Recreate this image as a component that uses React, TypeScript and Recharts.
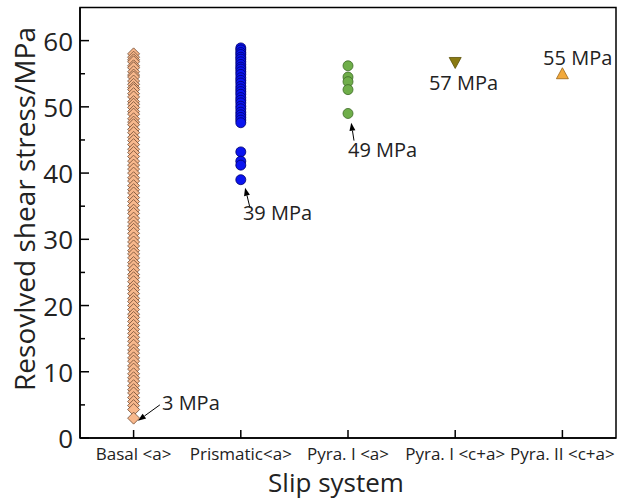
import React from 'react';
import { ScatterChart, Scatter, XAxis, YAxis, ReferenceArea, ReferenceLine, ReferenceDot } from 'recharts';

const categories = ['Basal <a>', 'Prismatic<a>', 'Pyra. I <a>', 'Pyra. I <c+a>', 'Pyra. II <c+a>'];

const basalValues = [
  58.0, 57.5, 57.1, 56.8, 56.2, 55.9, 55.3, 54.8, 54.5, 53.9, 53.4, 52.9, 52.6, 52.0, 51.5, 50.8,
  50.4, 49.9, 49.3, 48.9, 48.2, 47.7, 47.3, 46.6, 46.1, 45.4, 44.9, 44.3, 43.6, 43.1, 42.5, 41.8,
  41.2, 40.6, 40.0, 39.3, 38.8, 38.1, 37.5, 37.0, 36.3, 35.7, 35.1, 34.4, 33.9, 33.2, 32.6, 32.0,
  31.5, 30.9, 30.2, 29.6, 29.0, 28.3, 27.8, 27.2, 26.5, 26.0, 25.4, 24.7, 24.2, 23.6, 22.9, 22.4,
  21.8, 21.1, 20.6, 20.0, 19.4, 18.7, 18.2, 17.6, 17.0, 16.4, 15.8, 15.2, 14.6, 14.0, 13.3, 12.8,
  12.1, 11.6, 10.9, 10.4, 9.7, 9.1, 8.6, 7.9, 7.3, 6.8, 6.1, 5.5, 4.9, 4.3, 3.0,
];
const prismaticValues = [
  58.9, 58.6, 58.2, 57.9, 57.5, 57.2, 56.8, 56.4, 56.0, 55.7, 55.3, 54.9, 54.4, 54.0, 53.6, 53.1,
  52.7, 52.3, 51.9, 51.4, 51.0, 50.6, 50.1, 49.7, 49.2, 48.8, 48.4, 48.0, 47.6, 43.2, 41.8, 41.2, 39.0,
];
const pyraIaValues = [56.2, 54.5, 53.8, 52.6, 49.0];
const pyraIcaValues = [56.7];
const pyraIIcaValues = [55.0];

const yTicks = [0, 5, 10, 15, 20, 25, 30, 35, 40, 45, 50, 55, 60];
const xTicks = [1, 2, 3, 4, 5];

const annotations = [
  { text: '3 MPa', x: 1.265, y: 5.3 },
  { text: '39 MPa', x: 2.02, y: 34.0 },
  { text: '49 MPa', x: 3.0, y: 43.6 },
  { text: '57 MPa', x: 3.755, y: 53.7 },
  { text: '55 MPa', x: 4.82, y: 57.5 },
];
const arrows = [
  { x1: 1.245, y1: 5.0, x2: 1.04, y2: 2.6 },
  { x1: 2.085, y1: 34.8, x2: 2.04, y2: 37.8 },
  { x1: 3.056, y1: 44.9, x2: 3.03, y2: 47.6 },
];

const toPts = (xv: number, arr: number[]) => arr.map((v) => ({ x: xv, y: v }));
const basalData = toPts(1, basalValues);
const prismaticData = toPts(2, prismaticValues);
const pyraIaData = toPts(3, pyraIaValues);
const pyraIcaData = toPts(4, pyraIcaValues);
const pyraIIcaData = toPts(5, pyraIIcaValues);

const FONT = '"Open Sans", "DejaVu Sans", sans-serif';

const Diamond = (p: any) => {
  const { cx, cy } = p;
  const h = 6;
  return (
    <polygon
      points={`${cx},${cy - h} ${cx + h},${cy} ${cx},${cy + h} ${cx - h},${cy}`}
      fill="#F8B88C"
      stroke="#6E4A33"
      strokeWidth={0.8}
    />
  );
};
const makeCircle = (fill: string, stroke: string, r: number) => (p: any) => (
  <circle cx={p.cx} cy={p.cy} r={r} fill={fill} stroke={stroke} strokeWidth={0.8} />
);
const DownTri = (p: any) => {
  const { cx, cy } = p;
  return (
    <polygon
      points={`${cx - 6},${cy - 5} ${cx + 6},${cy - 5} ${cx},${cy + 6}`}
      fill="#8A7A12"
      stroke="#5A5008"
      strokeWidth={0.8}
    />
  );
};
const UpTri = (p: any) => {
  const { cx, cy } = p;
  return (
    <polygon
      points={`${cx - 6},${cy + 5} ${cx + 6},${cy + 5} ${cx},${cy - 6}`}
      fill="#F2A93B"
      stroke="#9A6515"
      strokeWidth={0.8}
    />
  );
};

const YTick = (props: any) => {
  const { x, y, payload } = props;
  const v = payload.value;
  const major = v % 10 === 0;
  return (
    <g>
      <line x1={x} x2={x + (major ? 9 : 5)} y1={y} y2={y} stroke="#000" strokeWidth={1.5} />
      {major && (
        <text x={x - 7} y={y} textAnchor="end" dominantBaseline="central" fontSize={26} fontFamily={FONT} fill="#222">
          {v}
        </text>
      )}
    </g>
  );
};

const XTick = (props: any) => {
  const { x, y, payload } = props;
  return (
    <g>
      <line x1={x} x2={x} y1={y} y2={y - 8} stroke="#000" strokeWidth={1.5} />
      <text x={x} y={y + 15} textAnchor="middle" dominantBaseline="central" fontSize={17} fontFamily={FONT} fill="#222">
        {categories[payload.value - 1]}
      </text>
    </g>
  );
};

const ArrowShape = (p: any) => {
  const { x1, y1, x2, y2 } = p;
  const ang = Math.atan2(y2 - y1, x2 - x1);
  const L = 8;
  const W = 3;
  const bx = x2 - L * Math.cos(ang);
  const by = y2 - L * Math.sin(ang);
  const px = -Math.sin(ang) * W;
  const py = Math.cos(ang) * W;
  return (
    <g>
      <line x1={x1} y1={y1} x2={bx} y2={by} stroke="#000" strokeWidth={1} />
      <polygon points={`${x2},${y2} ${bx + px},${by + py} ${bx - px},${by - py}`} fill="#000" />
    </g>
  );
};

const AnnotText = (text: string) => (p: any) => (
  <text x={p.cx} y={p.cy} dominantBaseline="central" fontSize={20} fontFamily={FONT} fill="#222">
    {text}
  </text>
);

export default function App() {
  return (
    <div style={{ position: 'absolute', left: 0, top: 0, width: 634, height: 502, background: '#fff' }}>
      <ScatterChart width={634} height={502} margin={{ top: 7.5, right: 18, bottom: 0, left: 0 }}>
        <XAxis
          type="number"
          dataKey="x"
          domain={[0.5, 5.5]}
          ticks={xTicks}
          interval={0}
          allowDataOverflow
          height={64}
          tickLine={false}
          tickSize={0}
          tickMargin={0}
          tick={<XTick />}
          axisLine={{ stroke: '#000', strokeWidth: 1.5 }}
          label={{
            content: (p: any) => (
              <text x={336} y={482} textAnchor="middle" dominantBaseline="central" fontSize={26} fontFamily={FONT} fill="#222">
                Slip system
              </text>
            ),
          }}
        />
        <YAxis
          type="number"
          dataKey="y"
          domain={[0, 65]}
          ticks={yTicks}
          interval={0}
          allowDataOverflow
          width={80}
          tickLine={false}
          tickSize={0}
          tickMargin={0}
          tick={<YTick />}
          axisLine={{ stroke: '#000', strokeWidth: 1.5 }}
          label={{
            content: (p: any) => (
              <text
                x={24}
                y={209}
                transform="rotate(-90 24 209)"
                textAnchor="middle"
                dominantBaseline="central"
                fontSize={28}
                fontFamily={FONT}
                fill="#222"
              >
                Resovlved shear stress/MPa
              </text>
            ),
          }}
        />
        <ReferenceArea x1={0.5} x2={5.5} y1={0} y2={65} fill="none" stroke="#000" strokeWidth={1.5} ifOverflow="visible" />
        <Scatter data={basalData} shape={Diamond} isAnimationActive={false} />
        <Scatter data={prismaticData} shape={makeCircle('#0A14F0', '#00006A', 5)} isAnimationActive={false} />
        <Scatter data={pyraIaData} shape={makeCircle('#6FAE4A', '#3C6A26', 5)} isAnimationActive={false} />
        <Scatter data={pyraIcaData} shape={DownTri} isAnimationActive={false} />
        <Scatter data={pyraIIcaData} shape={UpTri} isAnimationActive={false} />
        {arrows.map((a, i) => (
          <ReferenceLine
            key={'a' + i}
            segment={[{ x: a.x1, y: a.y1 }, { x: a.x2, y: a.y2 }]}
            shape={ArrowShape}
            ifOverflow="visible"
          />
        ))}
        {annotations.map((a, i) => (
          <ReferenceDot key={'t' + i} x={a.x} y={a.y} r={0} shape={AnnotText(a.text)} ifOverflow="visible" />
        ))}
      </ScatterChart>
    </div>
  );
}
